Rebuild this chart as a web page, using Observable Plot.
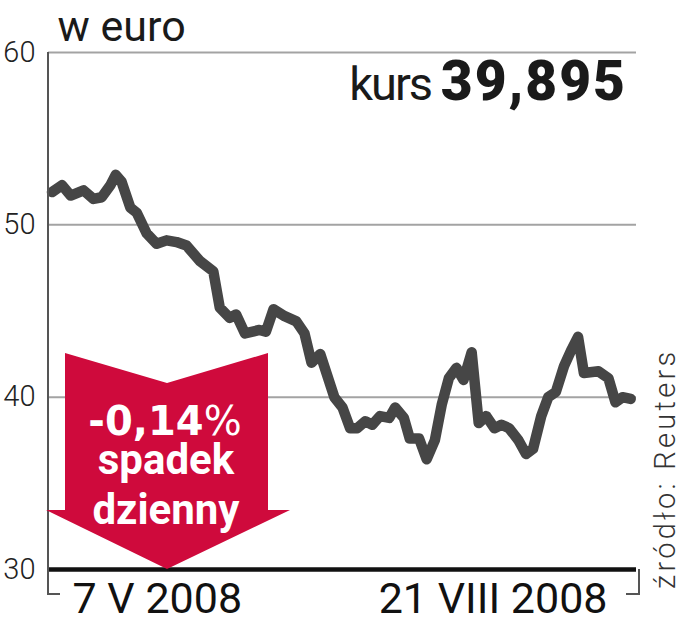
<!DOCTYPE html>
<html>
<head>
<meta charset="utf-8">
<script src="https://cdn.jsdelivr.net/npm/d3@7"></script>
<script src="https://cdn.jsdelivr.net/npm/@observablehq/plot@0.6"></script>
<style>
  html, body { margin: 0; padding: 0; background: #fff; }
  #chart { width: 682px; height: 640px; position: relative; }
</style>
</head>
<body>
<div id="chart"></div>
<script>
// ---- data ----
const dni = [0,1.7,3.2,5.4,7.1,8.5,10.0,10.9,11.9,13.4,
  14.5,16.2,17.9,19.6,21.3,23.0,25.3,27.6,28.7,30.4,
  31.5,33.0,35.5,36.6,37.9,39.8,41.8,43.2,44.4,45.9,
  48.3,49.7,51.0,52.2,53.6,54.8,56.1,57.7,58.7,60.2,
  61.2,62.8,64.1,65.5,66.7,67.9,69.2,70.4,71.8,73.0,
  74.3,75.7,76.9,78.2,79.8,81.1,82.3,83.7,84.9,86.2,
  87.6,88.8,90.0,91.0,93.5,95.2,96.4,97.6,99.0];
const kurs = [51.9,52.3,51.7,52.0,51.5,51.6,52.3,52.9,52.5,51.0,
  50.7,49.5,48.9,49.1,49.0,48.8,47.9,47.3,45.2,44.6,
  44.8,43.7,43.9,43.8,45.1,44.7,44.4,43.7,42.0,42.5,
  40.0,39.4,38.2,38.2,38.6,38.4,38.9,38.8,39.4,38.8,
  37.6,37.6,36.4,37.5,39.6,41.1,41.7,41.0,42.6,38.5,
  38.9,38.2,38.4,38.2,37.5,36.7,37.0,38.9,40.0,40.3,
  41.8,42.7,43.5,41.4,41.5,41.1,39.7,40.0,39.9];
const yTicks = [30, 40, 50, 60];
const gridValues = [40, 50, 60];
const dateLabels = ["7 V 2008", "21 VIII 2008"];
const unitLabel = "w euro";
const lastLabel = "kurs";
const lastValue = "39,895";
const changeValue = "-0,14";
const changeLines = ["spadek", "dzienny"];
const sourceLabel = "źródło: Reuters";

const data = dni.map((d, i) => ({d, v: kurs[i]}));

const chart = Plot.plot({
  width: 682,
  height: 640,
  marginLeft: 48,
  marginRight: 46,
  marginTop: 52,
  marginBottom: 71,
  style: {fontFamily: "Roboto, 'Liberation Sans', sans-serif", background: "#fff", overflow: "visible"},
  x: {domain: [-0.6, 100], axis: null},
  y: {domain: [30, 60]},
  marks: [
    Plot.ruleY(gridValues, {stroke: "#a3a3a3", strokeWidth: 2}),
    Plot.axisY(yTicks, {tickSize: 0, tickPadding: 13, fontSize: 29, fontWeight: 300, color: "#222", label: null}),
    Plot.line(data, {x: "d", y: "v", stroke: "#464646", strokeWidth: 10.5, strokeLinejoin: "round", strokeLinecap: "round"}),
    Plot.ruleY([30], {stroke: "#111", strokeWidth: 4.5}),
    Plot.text([unitLabel], {frameAnchor: "top-left", textAnchor: "start", lineAnchor: "bottom", dx: 9, dy: -12, fontSize: 43, fill: "#1a1a1a"}),
    Plot.text([dateLabels[0]], {frameAnchor: "bottom-left", textAnchor: "start", lineAnchor: "top", dx: 24, dy: 13, fontSize: 43, fill: "#111", letterSpacing: 1.4}),
    Plot.text([dateLabels[1]], {frameAnchor: "bottom-right", textAnchor: "end", lineAnchor: "top", dx: -29, dy: 13, fontSize: 43, fill: "#111", letterSpacing: 0.4})
  ]
});

document.getElementById("chart").appendChild(chart);

const svg = d3.select(chart);

// axis brackets
svg.append("path")
  .attr("d", "M48,52V594H60")
  .attr("fill", "none").attr("stroke", "#555").attr("stroke-width", 2);
svg.append("path")
  .attr("d", "M626,594H639V569")
  .attr("fill", "none").attr("stroke", "#555").attr("stroke-width", 2);

// last value
const kt = svg.append("text")
  .attr("x", 627).attr("y", 100)
  .attr("text-anchor", "end")
  .attr("fill", "#1a1a1a")
  .attr("font-family", "Roboto, 'Liberation Sans', sans-serif");
kt.append("tspan").attr("font-size", 47).attr("letter-spacing", -2).text(lastLabel + " ");
kt.append("tspan").attr("font-size", 55).attr("font-weight", 900).attr("letter-spacing", 2).text(lastValue);

// red arrow
const arrow = svg.append("g");
arrow.append("path")
  .attr("d", "M65,353L167,383L268,353V510H290L167,569L46,510H65Z")
  .attr("fill", "#cf0a3c");
const ct = arrow.append("text")
  .attr("x", 165).attr("y", 435)
  .attr("text-anchor", "middle").attr("fill", "#fff")
  .attr("font-family", "'DejaVu Sans', sans-serif")
  .attr("font-size", 40);
ct.append("tspan").attr("font-weight", 700).text(changeValue);
ct.append("tspan").attr("font-weight", 400).text("%");
changeLines.forEach((s, i) => {
  arrow.append("text")
    .attr("x", 166).attr("y", 474 + i * 50)
    .attr("text-anchor", "middle").attr("fill", "#fff")
    .attr("font-family", "Roboto, sans-serif")
    .attr("font-weight", 700).attr("font-size", 42)
    .text(s);
});

// source
svg.append("text")
  .attr("transform", "translate(675,589) rotate(-90)")
  .attr("text-anchor", "start")
  .attr("font-family", "Roboto, sans-serif")
  .attr("font-weight", 300)
  .attr("font-size", 29)
  .attr("letter-spacing", 3.3)
  .attr("fill", "#333")
  .text(sourceLabel);
</script>
</body>
</html>
